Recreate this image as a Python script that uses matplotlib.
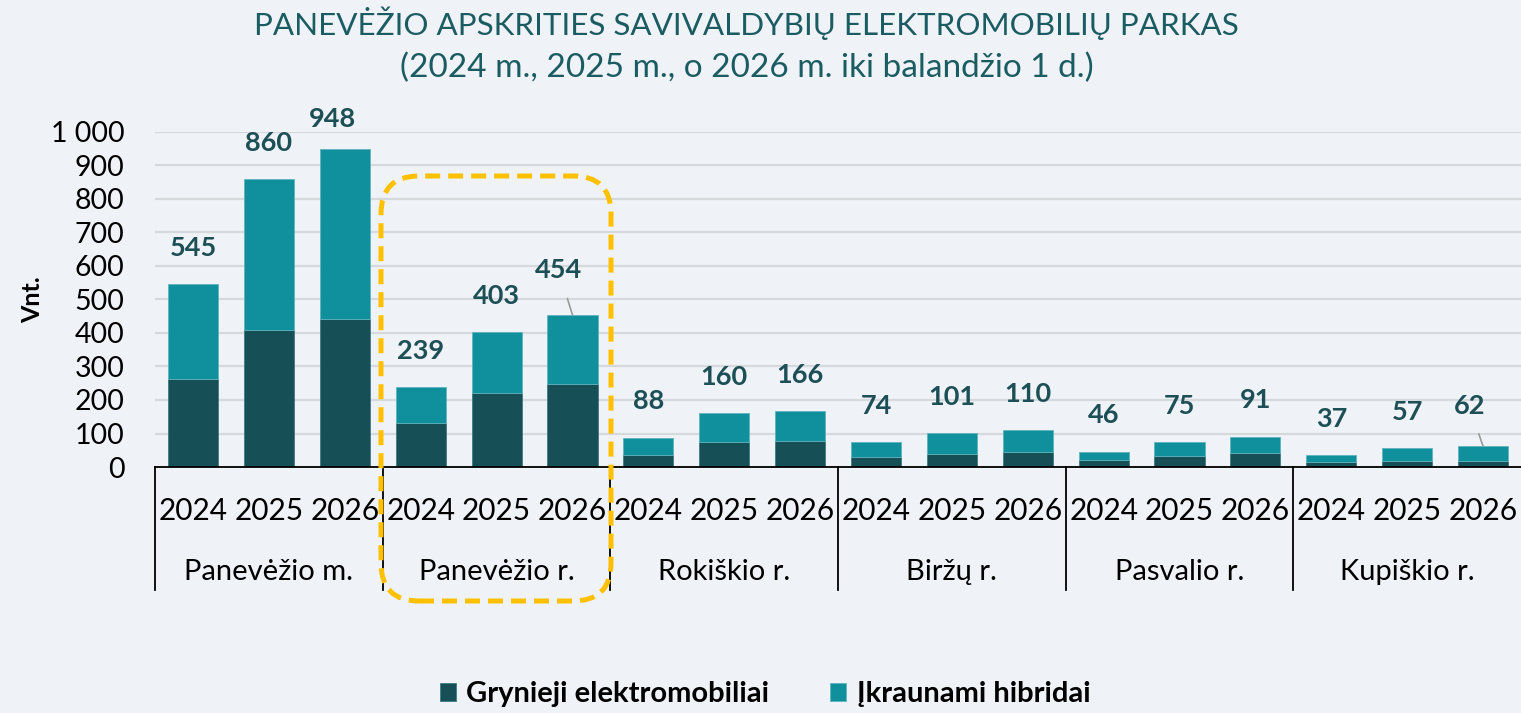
import matplotlib
matplotlib.use("Agg")
import matplotlib.pyplot as plt
import numpy as np
from matplotlib.patches import FancyBboxPatch

plt.rcParams["font.family"] = ["Lato", "DejaVu Sans"]

# Duomenys
groups = ["Panevėžio m.", "Panevėžio r.", "Rokiškio r.", "Biržų r.", "Pasvalio r.", "Kupiškio r."]
years = ["2024", "2025", "2026"]
totals = [545, 860, 948, 239, 403, 454, 88, 160, 166, 74, 101, 110, 46, 75, 91, 37, 57, 62]
bev = [262, 409, 441, 130, 220, 248, 36, 75, 78, 31, 39, 45, 21, 33, 42, 14, 18, 18]
phev = [t - b for t, b in zip(totals, bev)]
y_ticks = [0, 100, 200, 300, 400, 500, 600, 700, 800, 900, 1000]
y_tick_labels = ["0", "100", "200", "300", "400", "500", "600", "700", "800", "900", "1 000"]

bg = "#EFF3F7"
dark = "#174F57"
teal = "#10909D"
txt = "#1D4F56"

fig = plt.figure(figsize=(15.21, 7.13), dpi=100, facecolor=bg)
ax = fig.add_axes([0.102, 0.345, 0.898, 0.47])
ax.set_facecolor(bg)

x = np.arange(len(totals))
ax.bar(x, bev, width=0.66, color=dark, edgecolor="#3d7b82", linewidth=0.6, label="Grynieji elektromobiliai", zorder=3)
ax.bar(x, phev, width=0.66, bottom=bev, color=teal, edgecolor="#5fb3bb", linewidth=0.6, label="Įkraunami hibridai", zorder=3)

ax.set_xlim(-0.5, len(totals) - 0.5)
ax.set_ylim(0, 1000)
ax.set_yticks(y_ticks)
ax.set_yticklabels(y_tick_labels, fontsize=20.5)
ax.tick_params(axis="y", length=0, pad=22)
ax.set_xticks([])
ax.yaxis.grid(True, color="#D6D9DC", linewidth=1.6, zorder=0)
for s in ["top", "right", "left"]:
    ax.spines[s].set_visible(False)
ax.spines["bottom"].set_color("black")
ax.spines["bottom"].set_linewidth(1.3)
ax.spines["bottom"].set_zorder(4)

# reikšmių etiketės (poslinkiai taškais)
offsets = {2: (-9, 22), 5: (-10, 32), 17: (-10, 29)}
leaders = [5, 17]
for i, t in enumerate(totals):
    dx, dy = offsets.get(i, (0, 26))
    ap = None
    if i in leaders:
        ap = dict(arrowstyle="-", color="#9a9a9a", lw=1.2, shrinkA=10, shrinkB=0)
    ax.annotate(str(t), xy=(i, t), xytext=(dx, dy), textcoords="offset points",
                ha="center", va="center", fontsize=19.5, fontweight="bold", color=txt,
                arrowprops=ap)

# kategorijų lentelė po ašimi
trans = ax.get_xaxis_transform()
for gi, g in enumerate(groups):
    left = gi * 3 - 0.5
    ax.plot([left, left], [0, -0.367], transform=trans, color="black", lw=1.3, clip_on=False)
    ax.text(gi * 3 + 1, -0.313, g, transform=trans, ha="center", va="center", fontsize=21)
    for yi, yr in enumerate(years):
        ax.text(gi * 3 + yi, -0.13, yr, transform=trans, ha="center", va="center", fontsize=21.5)

ax.set_ylabel("Vnt.", fontsize=18, fontweight="bold", labelpad=5)

fig.text(0.491, 0.968, "PANEVĖŽIO APSKRITIES SAVIVALDYBIŲ ELEKTROMOBILIŲ PARKAS",
         ha="center", va="center", fontsize=22.6, color="#1B5C62")
fig.text(0.491, 0.905, "(2024 m., 2025 m., o 2026 m. iki balandžio 1 d.)",
         ha="center", va="center", fontsize=24, color="#1B5C62")

# geltonas punktyrinis rėmelis
box = FancyBboxPatch((3.81, 1.12), 2.30, 4.25, boxstyle="round,pad=0,rounding_size=0.38",
                     transform=fig.dpi_scale_trans, fill=False, edgecolor="#FFC000",
                     linewidth=3.6, linestyle=(0, (3, 1.6)), zorder=10, clip_on=False)
fig.patches.append(box)

leg = fig.legend(loc="center", bbox_to_anchor=(0.503, 0.026), ncol=2, frameon=False,
                 prop={"size": 21, "weight": "bold"}, handlelength=0.55, handleheight=0.55,
                 columnspacing=2.1, handletextpad=0.35)

fig.savefig("out.png", dpi=100, facecolor=bg)
